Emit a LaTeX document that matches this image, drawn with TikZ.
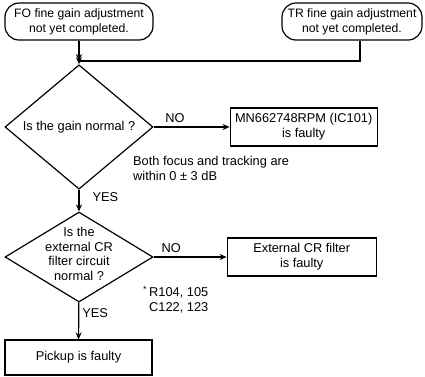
\documentclass[tikz,border=0pt]{standalone}
\usepackage{fontspec}
\setmainfont{Liberation Sans}
\usepackage{tikz}
\usetikzlibrary{positioning,arrows.meta,shapes.geometric}

\begin{document}
\begin{tikzpicture}[
    x=1pt, y=-1pt,
    base/.style={font=\fontsize{12.8}{14.8}\selectfont, line width=1.2pt},
    startbox/.style={base, font=\fontsize{12.2}{14.8}\selectfont, rectangle, draw,
                     rounded corners=14pt, minimum height=37pt, align=center, inner sep=1pt},
    box/.style={base, rectangle, draw, minimum width=147pt, minimum height=38pt,
                align=center, inner sep=2pt},
    decision/.style={base, diamond, draw, minimum width=148pt, minimum height=92pt,
                     align=center, inner sep=0pt},
    arrow/.style={-{Stealth[length=7pt, width=6pt]}, line width=1.2pt},
    line/.style={line width=1.2pt},
    lbl/.style={font=\fontsize{12.8}{14.8}\selectfont, inner sep=1pt},
    note/.style={font=\fontsize{12.8}{14.8}\selectfont, align=left, inner sep=0pt},
]
\useasboundingbox (0,0) rectangle (425,376);

% Start conditions
\node[startbox, minimum width=148pt] (fo) at (79,21.5) {FO fine gain adjustment\\not yet completed.};
\node[startbox, minimum width=140pt] (tr) at (352,21.5) {TR fine gain adjustment\\not yet completed.};
\coordinate (join) at (79,61);
\coordinate (trout) at ([xshift=8pt]tr.south);

% Checks
\node[decision] (gain) at (79,127) {Is the gain normal ?};
\node[box, right=76pt of gain] (mn) {MN662748RPM (IC101)\\is faulty};
\node[decision, minimum height=90pt] (filter) at (79,257)
    {\smash{\parbox[c]{90pt}{\centering Is the\\external CR\\filter circuit\\normal ?}}};
\node[box, minimum width=149pt, right=73pt of filter] (ext) {External CR filter\\is faulty};
\node[box, minimum height=35pt] (pickup) at (78.5,357.5) {Pickup is faulty};

% Notes
\node[note, anchor=north west] (gainnote) at (133,156) {Both focus and tracking are\\within 0 ± 3 dB};
\node[note, anchor=north west] (parts) at (149,286) {\llap{\textsuperscript{*}\,}R104, 105\\C122, 123};

% Arrows
\draw[arrow] (fo) -- (join);
\draw[line] (trout) |- (join);
\draw[arrow] (join) -- (gain);
\draw[arrow] (gain) -- node[lbl, above, pos=0.28, yshift=3pt] (no1) {NO} (mn);
\draw[arrow] (gain) -- node[lbl, right, pos=0.33, xshift=12pt] (yes1) {YES} (filter);
\draw[arrow] (filter) -- node[lbl, above, pos=0.24, yshift=3pt] (no2) {NO} (ext);
\draw[arrow] (filter) -- node[lbl, right, pos=0.29, xshift=2pt] (yes2) {YES} (pickup);
\end{tikzpicture}
\end{document}
